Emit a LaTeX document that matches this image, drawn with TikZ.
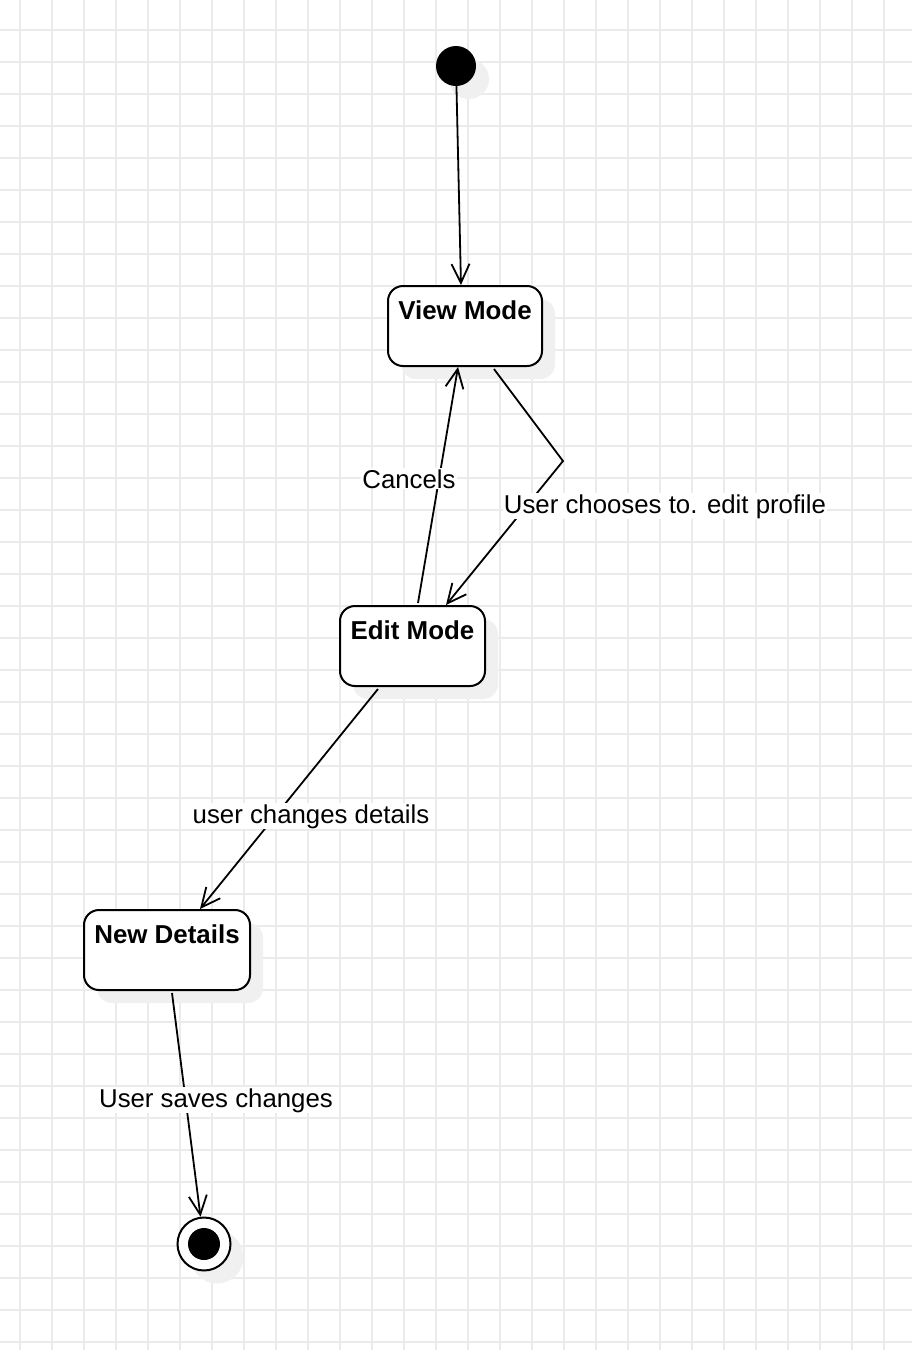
\documentclass[tikz,border=0pt]{standalone}
\usepackage{fontspec}
\setmainfont{Liberation Sans}
\usetikzlibrary{arrows.meta,shadows}
\definecolor{gridgray}{RGB}{235,235,235}
\definecolor{shadegray}{RGB}{240,240,240}
\begin{document}
\begin{tikzpicture}[x=1pt,y=-1pt,
  shade/.style={general shadow={fill=shadegray, shadow xshift=13pt, shadow yshift=-13pt}},
  state/.style={draw, line width=2pt, fill=white, rounded corners=15pt, shade,
    minimum width=#1, text height=33pt, text depth=47pt, inner ysep=0pt,
    font=\bfseries\fontsize{25.9pt}{30pt}\selectfont},
  startstate/.style={circle, fill=black, minimum size=40pt, inner sep=0pt, shade},
  endstate/.style={circle, draw, line width=2pt, fill=white, minimum size=53pt, inner sep=0pt, shade},
  trans/.style={line width=1.8pt, -{Straight Barb[length=19pt,width=18pt]}},
  lbl/.style={fill=white, inner sep=1pt, anchor=base, font=\fontsize{25.8pt}{30pt}\selectfont}]
\fill[white] (0,0) rectangle (912,1350);
\useasboundingbox (0,0) rectangle (912,1350);
% grid
\foreach \x in {20,52,...,884} \draw[gridgray, line width=1.2pt] (\x,0) -- (\x,1350);
\foreach \y in {30,62,...,1342} \draw[gridgray, line width=1.2pt] (0,\y) -- (912,\y);
% states
\node[startstate] (start) at (456,66) {};
\node[state=154pt] (view) at (465,326) {View Mode};
\node[state=145pt] (edit) at (412.5,646) {Edit Mode};
\node[state=166pt] (details) at (167,950) {New Details};
\node[endstate] (final) at (204,1244) {};
\fill (final) circle (16);
% transitions
\coordinate (bend) at (563,461);
\draw[trans] (start) -- ([xshift=-4pt]view.north);
\draw[trans] ([xshift=5.5pt,yshift=2pt]edit.north) -- ([xshift=-7pt]view.south);
\draw[trans] ([xshift=29pt,yshift=-2pt]view.south) -- (bend) -- ([xshift=33.5pt]edit.north);
\draw[trans] ([xshift=-34.5pt,yshift=-2pt]edit.south) -- ([xshift=33pt]details.north);
\draw[trans] ([xshift=5pt,yshift=-2pt]details.south) -- (final);
% labels
\node[lbl] (cancels) at (409,488) {Cancels};
\node[lbl] (chooses) at (665,513) {User chooses to. edit profile};
\node[lbl] (changes) at (311,823) {user changes details};
\node[lbl] (saves) at (216,1107) {User saves changes};
\end{tikzpicture}
\end{document}
